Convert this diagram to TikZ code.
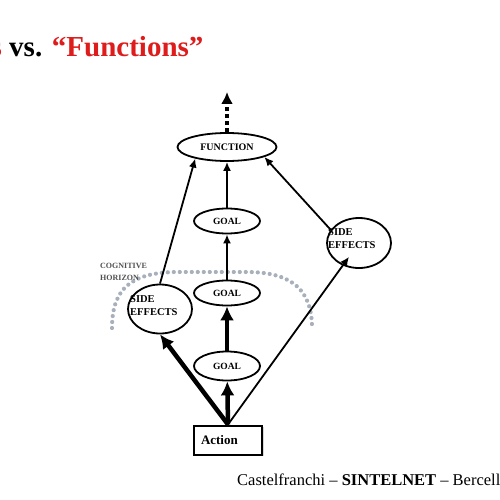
\documentclass[tikz,border=0pt]{standalone}
\usepackage{fontspec}
\setmainfont{Liberation Serif}
\usepackage{tikz}
\usetikzlibrary{shapes, arrows.meta, shadows}
\definecolor{titlered}{RGB}{222, 28, 28}
\definecolor{horizon}{RGB}{168, 176, 188}
\definecolor{note}{RGB}{80, 80, 80}
\newcommand*{\gh}{25}

\begin{document}
\begin{tikzpicture}[
   x=1pt, y=-1pt,
   funcell/.style={ellipse, draw=black, fill=white, line width=1.8, inner sep=0,
                   minimum height=28, minimum width=99,
                   font=\bfseries\fontsize{10}{12}\selectfont},
   goalell/.style={ellipse, draw=black, fill=white, line width=1.8, inner sep=0,
                   minimum height=\gh, minimum width=66,
                   font=\bfseries\fontsize{9.5}{11}\selectfont},
   sideell/.style={ellipse, draw=black, fill=white, line width=1.8, inner sep=0,
                   minimum height=49, minimum width=64},
   sidetxt/.style={anchor=north west, align=left, inner sep=0,
                   font=\bfseries\fontsize{10.5}{13}\selectfont},
   actrec/.style={rectangle, draw=black, fill=white, line width=2, inner xsep=7,
                  text width=54, align=left, minimum height=29,
                  drop shadow={shadow xshift=1.5pt, shadow yshift=-1.5pt, fill=black!30},
                  font=\bfseries\fontsize{13}{15}\selectfont},
   thinarr/.style={-{Latex[length=9pt, width=8pt]}, line width=1.8},
   thickarr/.style={-{Latex[length=14pt, width=14pt]}, line width=4.5},
   dotarr/.style={-{Latex[length=12pt, width=12pt]}, line width=3.5,
                  dash pattern=on 4pt off 3pt}
  ]

  \useasboundingbox (0, 0) rectangle (500, 500);

  % Title and footer
  \node[anchor=base west, inner sep=0, font=\bfseries\fontsize{29}{31}\selectfont] (TTL)
    at (-9.5, 57) {\textcolor{titlered}{s} vs. \textcolor{titlered}{“Functions”}};
  \node[anchor=base west, inner sep=0, font=\fontsize{16.5}{18}\selectfont] (FOOT)
    at (237, 485) {Castelfranchi – \textbf{SINTELNET} – Bercell};

  % Cognitive horizon
  \draw[horizon, line width=4.2, line cap=round, dash pattern=on 0pt off 6pt]
    (112, 328) .. controls (112, 288) and (132, 273) .. (175, 272) -- (250, 272)
    .. controls (292, 273) and (312, 290) .. (312, 328);
  \node[anchor=north west, align=left, inner sep=0, text=note,
        font=\bfseries\fontsize{8}{12.5}\selectfont] (CH)
    at (100, 262.5) {COGNITIVE\\HORIZON};

  \node (FUN) at (227, 147) [funcell] {FUNCTION};

  \node (G3) at (227, 221) [goalell] {GOAL};

  \node (G2) at (227, 293) [goalell] {GOAL};

  \node (G1) at (227, 366) [goalell, minimum height=29] {GOAL};

  \node (SEl) at (160, 309) [sideell] {};
  \node (SEltxt) at (130, 295) [sidetxt] {SIDE\\EFFECTS};

  \node (SEr) at (359, 243) [sideell, minimum height=50] {};
  \node (SErtxt) at (328, 228) [sidetxt] {SIDE\\EFFECTS};

  \node (ACT) at (228, 440) [actrec] {Action};

  \coordinate (UP) at (227, 92);

  \foreach \B/\E in {G2/G3, G3/FUN, SEl.north/FUN.200, SEr.155/FUN.-15} {
    \draw[thinarr] (\B) -- (\E);
  }

  \foreach \B/\E in {ACT.north/SEl.south, ACT.north/G1, G1/G2} {
    \draw[thickarr] (\B) -- (\E);
  }

  \draw[thinarr, shorten >=17pt] (ACT.north) -- (SEr.center);

  \draw[dotarr] (FUN.north) -- (UP);

\end{tikzpicture}
\end{document}
